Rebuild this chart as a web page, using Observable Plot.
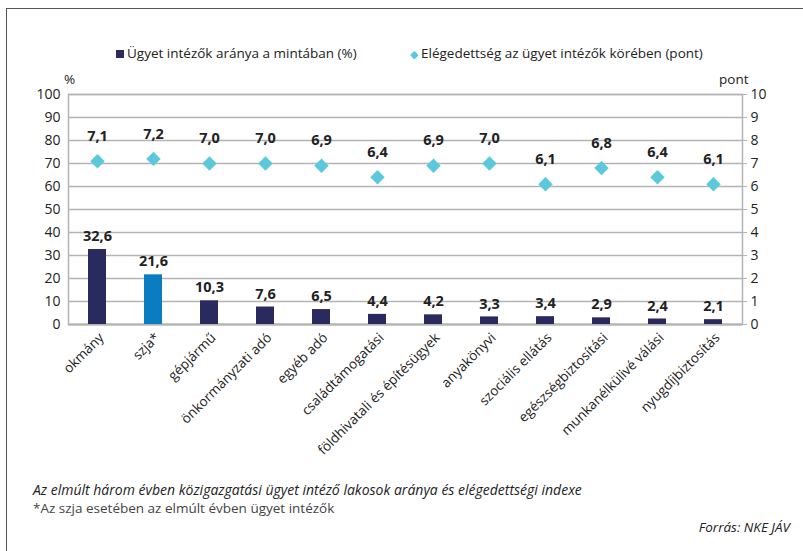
<!DOCTYPE html>
<html><head><meta charset="utf-8">
<script src="https://cdn.jsdelivr.net/npm/d3@7"></script>
<script src="https://cdn.jsdelivr.net/npm/@observablehq/plot@0.6"></script>
<style>
body{margin:0;background:#fff;font-family:"Open Sans",sans-serif;}
#wrap{position:relative;width:803px;height:551px;overflow:hidden;}
#frame{position:absolute;left:6px;top:8px;width:820px;height:600px;border:1.5px solid #555;box-sizing:border-box;}
.t{position:absolute;white-space:nowrap;color:#222;font-size:13.5px;}
</style></head><body>
<div id="wrap">
<div id="frame"></div>
<div id="chart" style="position:absolute;left:0;top:0"></div>
<div class="t" style="left:116px;top:44px"><span style="display:inline-block;width:8px;height:8px;background:#2b2a5f;margin-right:3px"></span>Ügyet intézők aránya a mintában (%)</div>
<div class="t" style="left:410px;top:44px"><span style="color:#5bc8dc;font-size:11px;margin-right:3px">◆</span>Elégedettség az ügyet intézők körében (pont)</div>
<div class="t" style="left:64px;top:70px">%</div>
<div class="t" style="left:719px;top:70px">pont</div>
<div class="t" style="left:33px;top:480px;font-style:italic;font-size:14px">Az elmúlt három évben közigazgatási ügyet intéző lakosok aránya és elégedettségi indexe</div>
<div class="t" style="left:33px;top:499px;color:#444">*Az szja esetében az elmúlt évben ügyet intézők</div>
<div class="t" style="right:13px;top:518px;font-style:italic">Forrás: NKE JÁV</div>
</div>
<script>
const categories = ["okmány","szja*","gépjármű","önkormányzati adó","egyéb adó","családtámogatási","földhivatali és építésügyek","anyakönyvi","szociális ellátás","egészségbiztosítási","munkanélkülivé válási","nyugdíjbiztosítás"];
const shares = [32.6,21.6,10.3,7.6,6.5,4.4,4.2,3.3,3.4,2.9,2.4,2.1];
const satisfaction = [7.1,7.2,7.0,7.0,6.9,6.4,6.9,7.0,6.1,6.8,6.4,6.1];
const leftTicks = [0,10,20,30,40,50,60,70,80,90,100];
const rightTicks = [0,1,2,3,4,5,6,7,8,9,10];

const data = categories.map((c,i)=>({cat:c, share:shares[i], sat:satisfaction[i], hi:c==="szja*"}));
const fmt = v => v.toFixed(1).replace(".",",");

const chart = Plot.plot({
  width:803, height:551,
  marginLeft:68, marginRight:61, marginTop:94, marginBottom:227,
  style:{fontFamily:'"Open Sans",sans-serif', fontSize:"13.5px", color:"#222", background:"transparent"},
  x:{domain:categories, paddingInner:0.68, paddingOuter:0.34, label:null},
  y:{domain:[0,100], label:null},
  marks:[
    Plot.gridY(leftTicks,{stroke:"#b4b4b4", strokeOpacity:1, strokeWidth:1.5}),
    Plot.frame({stroke:"#b4b4b4", strokeWidth:1.5}),
    Plot.ruleY([0],{stroke:"#b4b4b4", strokeWidth:2}),
    Plot.barY(data,{x:"cat", y:"share", fill:d=>d.hi?"#0a7cc1":"#2b2a5f"}),
    Plot.text(data,{x:"cat", y:"share", text:d=>fmt(d.share), dy:-13, fontWeight:"bold", fontSize:14.5, fill:"#222"}),
    Plot.dot(data,{x:"cat", y:d=>d.sat*10, symbol:"diamond2", r:6.5, fill:"#5bc8dc", stroke:"none"}),
    Plot.text(data,{x:"cat", y:d=>d.sat*10, text:d=>fmt(d.sat), dy:-25, fontWeight:"bold", fontSize:14.5, fill:"#222"}),
    Plot.axisY(leftTicks,{anchor:"left", tickSize:0, tickPadding:8, fontSize:14, label:null}),
    Plot.axisY(leftTicks,{anchor:"right", tickSize:4, tickPadding:4, stroke:"#b4b4b4", fontSize:14, tickFormat:d=>String(d/10), label:null}),
    Plot.axisX({tickSize:0, tickRotate:-45, tickPadding:6, dx:4, dy:5, fontSize:13.5, label:null})
  ]
});
document.getElementById("chart").appendChild(chart);
</script>
</body></html>
